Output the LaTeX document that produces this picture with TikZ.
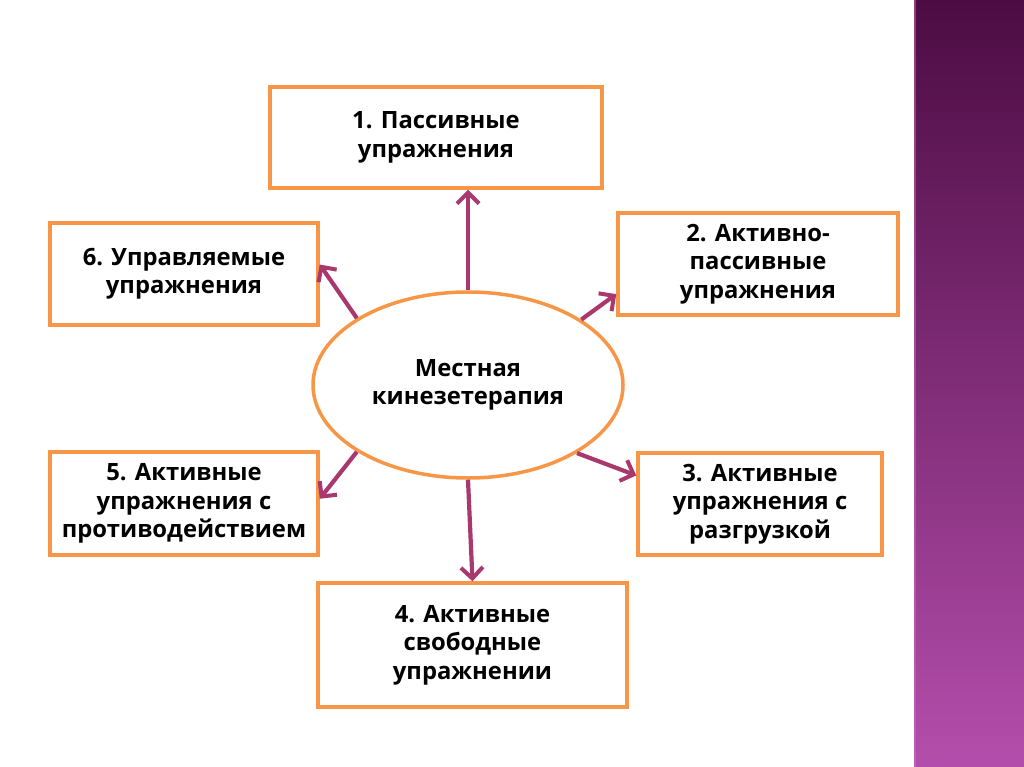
\documentclass[tikz,border=0pt]{standalone}
\usepackage{fontspec}
\setmainfont{Open Sans}
\usepackage{xcolor}
\usepackage{tikz}
\usetikzlibrary{arrows.meta,positioning,shapes.geometric}

\definecolor{boxorange}{RGB}{247,150,70}
\definecolor{arrowberry}{RGB}{168,56,110}
\definecolor{stripetop}{RGB}{76,12,67}
\definecolor{stripebot}{RGB}{180,78,172}
\definecolor{stripeedge}{RGB}{200,110,190}

\begin{document}
\begin{tikzpicture}[
  x=1pt, y=-1pt,
  font=\fontsize{23.8}{28.5}\selectfont\bfseries,
  box/.style={draw=boxorange, line width=3.5pt, fill=white, align=center, inner sep=0pt},
  hub/.style={ellipse, draw=boxorange, line width=3.5pt, fill=white, align=center, inner sep=0pt,
              minimum width=310pt, minimum height=186pt},
  arrow/.style={-{Straight Barb[length=11pt,width=22pt,line width=4pt]}, draw=arrowberry, line width=4.2pt},
]
  \useasboundingbox (0,0) rectangle (1024,767);
  \fill[white] (0,0) rectangle (1024,767);

  % purple band on the right
  \shade[top color=stripetop, bottom color=stripebot] (914,0) rectangle (1024,767);
  \fill[stripeedge, opacity=0.5] (914,0) rectangle (916,767);

  \node[hub] (ctr) at (468,385) {Местная\\кинезетерапия};

  \node[box, minimum width=332pt, minimum height=101pt] (b1) at (436,137.5) {1. Пассивные\\упражнения};
  \node[box, minimum width=280pt, minimum height=102pt] (b2) at (758,264) {2. Активно-\\пассивные\\упражнения};
  \node[box, minimum width=244pt, minimum height=102pt] (b3) at (760,504) {3. Активные\\упражнения с\\разгрузкой};
  \node[box, minimum width=309pt, minimum height=124pt] (b4) at (472.5,645) {4. Активные\\свободные\\упражнении};
  \node[box, minimum width=268pt, minimum height=103pt] (b5) at (184,503.5) {5. Активные\\упражнения с\\противодействием};
  \node[box, minimum width=268pt, minimum height=102pt] (b6) at (184,274) {6. Управляемые\\упражнения};

  \draw[arrow] (ctr.north) -- (ctr.north |- b1.south);
  \draw[arrow] (ctr.30) -- (b2.192);
  \draw[arrow] (ctr.328) -- (b3.167);
  \draw[arrow] (ctr.south) -- (b4.north);
  \draw[arrow] (ctr.211) -- (b5.2);
  \draw[arrow] (ctr.149) -- (b6.4);
\end{tikzpicture}
\end{document}
